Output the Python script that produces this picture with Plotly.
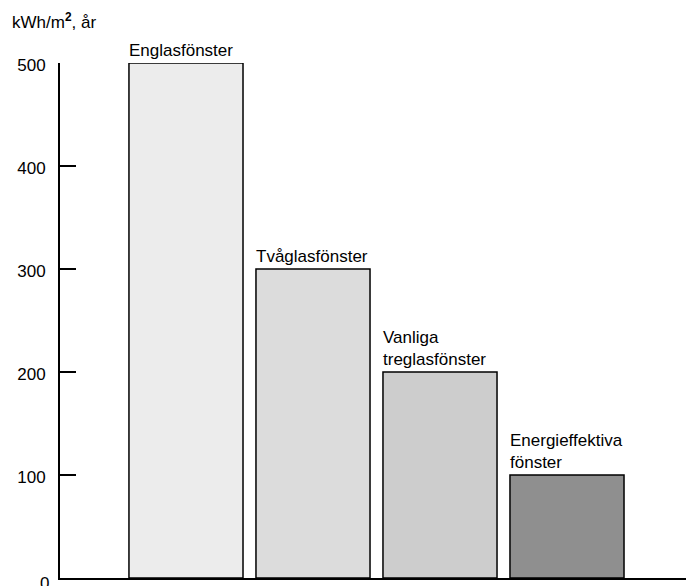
import plotly.graph_objects as go

categories = ["Englasfönster", "Tvåglasfönster", "Vanliga<br>treglasfönster", "Energieffektiva<br>fönster"]
values = [500, 300, 200, 100]
colors = ["#ececec", "#dcdcdc", "#cdcdcd", "#8f8f8f"]
tick_values = [0, 100, 200, 300, 400, 500]
y_title = "kWh/m<sup><b>2</b></sup>, år"

FONT = "Liberation Sans, Arial, sans-serif"

fig = go.Figure()
fig.add_trace(go.Bar(
    x=categories, y=values,
    marker=dict(color=colors, line=dict(color="black", width=1.5)),
    hoverinfo="skip",
))

annotations = []
for c, v in zip(categories, values):
    annotations.append(dict(
        x=c, y=v, xref="x", yref="y", text=c, showarrow=False,
        xanchor="left", yanchor="bottom", align="left", xshift=-59, yshift=1,
        font=dict(family=FONT, size=17, color="black"),
    ))
annotations.append(dict(
    x=0, y=1, xref="paper", yref="paper", text=y_title, showarrow=False,
    xanchor="left", yanchor="middle", xshift=-50, yshift=42,
    font=dict(family=FONT, size=17, color="black"),
))
# the bottom tick label sits partly below the picture's edge, as in the reference
annotations.append(dict(
    x=0, y=tick_values[0], xref="paper", yref="y", text=str(tick_values[0]),
    showarrow=False, xanchor="right", yanchor="middle", xshift=-9, yshift=-5,
    font=dict(family=FONT, size=17, color="black"),
))

fig.update_layout(
    width=686, height=586,
    margin=dict(l=60, r=0, t=63, b=8),
    paper_bgcolor="white", plot_bgcolor="white",
    showlegend=False,
    bargap=0.102,
    annotations=annotations,
    xaxis=dict(
        type="category", range=[-0.992, 3.937],
        showline=True, linecolor="black", linewidth=2,
        showticklabels=False, ticks="", showgrid=False, zeroline=False,
    ),
    yaxis=dict(
        range=[0, 500], tickvals=tick_values,
        ticktext=["" if v == tick_values[0] else str(v) for v in tick_values],
        ticks="inside", ticklen=16, tickwidth=2, tickcolor="black",
        showline=True, linecolor="black", linewidth=2,
        showgrid=False, zeroline=False,
        ticklabelstandoff=9, ticklabelshift=2,
        tickfont=dict(family=FONT, size=17, color="black"),
    ),
)

fig.write_html(
    "out.html",
    config={"displayModeBar": False},
    post_script="document.body.style.margin='0px';document.body.style.overflow='hidden';",
)
